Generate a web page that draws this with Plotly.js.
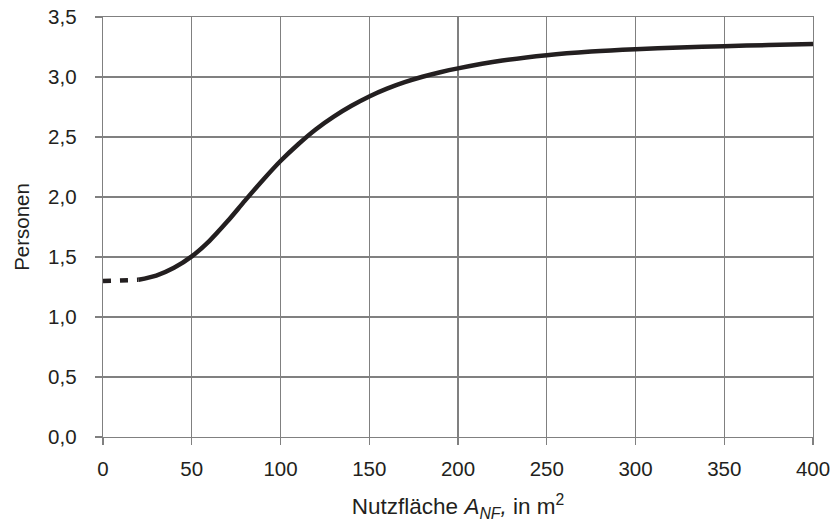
<!DOCTYPE html>
<html>
<head>
<meta charset="utf-8">
<script src="https://cdn.plot.ly/plotly-3.0.1.min.js"></script>
<style>html,body{margin:0;padding:0;background:#fff;}#chart{width:833px;height:522px;}</style>
</head>
<body>
<div id="chart"></div>
<script>
// Dashed start segment
const dashX = [0, 20];
const dashY = [1.30, 1.31];
// Solid curve
const areaX = [20, 30, 40, 50, 60, 70, 80, 90, 100, 110, 120, 130, 140, 150, 160, 170, 180, 190, 200, 225, 250, 275, 300, 325, 350, 375, 400];
const persons = [1.31, 1.345, 1.41, 1.505, 1.635, 1.795, 1.97, 2.14, 2.30, 2.44, 2.565, 2.67, 2.76, 2.838, 2.903, 2.957, 3.002, 3.04, 3.072, 3.137, 3.182, 3.212, 3.232, 3.246, 3.257, 3.266, 3.274];
const xTicks = [0, 50, 100, 150, 200, 250, 300, 350, 400];
const yTicks = [0, 0.5, 1, 1.5, 2, 2.5, 3, 3.5];

const lineColor = '#231f20';
const gridColor = '#808080';
const font = {family: 'Liberation Sans, Arial, sans-serif', color: '#231f20'};

const traces = [
  {x: dashX, y: dashY, mode: 'lines', line: {color: lineColor, width: 4.5, dash: '8px,9px'}, hoverinfo: 'skip'},
  {x: areaX, y: persons, mode: 'lines', line: {color: lineColor, width: 4.5, shape: 'spline', smoothing: 0.8}}
];

const layout = {
  width: 833, height: 522,
  margin: {l: 102.5, r: 20, t: 17, b: 85},
  paper_bgcolor: '#fff', plot_bgcolor: '#fff',
  showlegend: false,
  separators: ',.',
  font: Object.assign({size: 20}, font),
  xaxis: {
    range: [0, 400], tickvals: xTicks, ticktext: xTicks.map(String),
    showgrid: true, gridcolor: gridColor, gridwidth: 1.3,
    zeroline: false, showline: true, linecolor: gridColor, linewidth: 1.3, mirror: true,
    ticks: 'outside', ticklen: 7, tickcolor: gridColor, tickwidth: 1.3,
    tickfont: Object.assign({size: 20.5}, font), ticklabelstandoff: 6,
    title: {text: 'Nutzfläche <i>A<sub>NF</sub>,</i> in m<sup>2</sup>', font: Object.assign({size: 22.5}, font), standoff: 19},
    fixedrange: true
  },
  yaxis: {
    range: [0, 3.5], tickvals: yTicks, tickformat: '.1f',
    showgrid: true, gridcolor: gridColor, gridwidth: 1.3,
    zeroline: false, showline: true, linecolor: gridColor, linewidth: 1.3, mirror: true,
    ticks: 'outside', ticklen: 7, tickcolor: gridColor, tickwidth: 1.3,
    tickfont: Object.assign({size: 20.5}, font), ticklabelstandoff: 14,
    title: {text: 'Personen', font: Object.assign({size: 20.5}, font), standoff: 13},
    fixedrange: true
  }
};

Plotly.newPlot('chart', traces, layout, {staticPlot: true, displayModeBar: false});
</script>
</body>
</html>
